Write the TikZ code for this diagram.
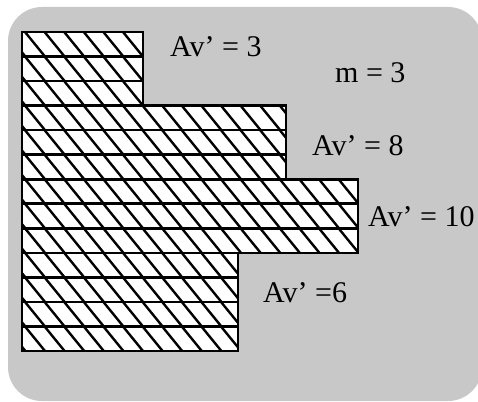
\documentclass[tikz,border=0pt]{standalone}
\usepackage{fontspec}
\setmainfont{Liberation Serif}
\definecolor{bggray}{RGB}{200,200,200}
\tikzset{
  bgshape/.style={fill=bggray, rounded corners=34pt},
  hatchline/.style={line width=2.4pt, black},
  rowbox/.style={draw=black, line width=2.6pt},
  lbl/.style={anchor=base west, inner sep=0pt, font=\fontsize{30}{33}\selectfont}
}
\begin{document}
\begin{tikzpicture}[x=1pt,y=-1pt]
\useasboundingbox (0,0) rectangle (478,401);
\clip (0,0) rectangle (478,401);
\fill[bgshape] (8,7) rectangle (482,401);
% white fill of stepped shape
\fill[white] (22,32) -- (143,32) -- (143,105.6) -- (286,105.6) -- (286,179.2) -- (358,179.2) -- (358,252.9) -- (238,252.9) -- (238,351) -- (22,351) -- cycle;
% hatching rows
\foreach \r/\w in {0/143,1/143,2/143,3/286,4/286,5/286,6/358,7/358,8/358,9/238,10/238,11/238,12/238} {
  \pgfmathsetmacro\yt{32+\r*24.54}
  \begin{scope}
    \clip (22,\yt) rectangle (\w,\yt+24.54);
    \foreach \n in {-2,...,18} \draw[hatchline] (25+\n*19.6,\yt) -- ++(20,24.54);
  \end{scope}
  \draw[rowbox] (22,\yt) rectangle (\w,\yt+24.54);
}
\node[lbl] (a3) at (170,57) {Av’ = 3};
\node[lbl] (m3) at (335,82) {m = 3};
\node[lbl] (a8) at (312,155) {Av’ = 8};
\node[lbl] (a10) at (368,226) {Av’ = 10};
\node[lbl] (a6) at (263,302) {Av’ =6};
\end{tikzpicture}
\end{document}
